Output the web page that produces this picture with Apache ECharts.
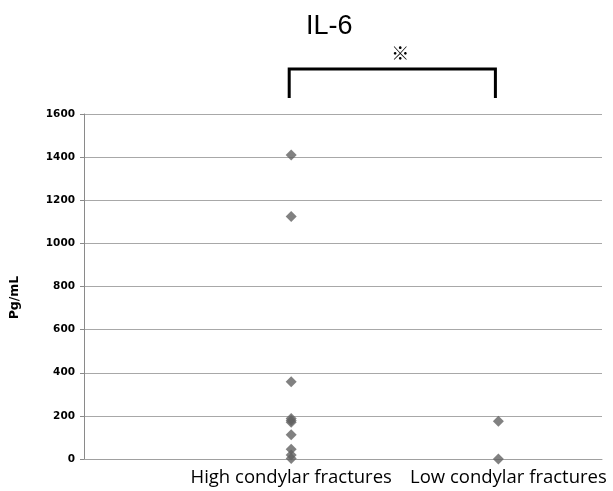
<!DOCTYPE html>
<html>
<head>
<meta charset="utf-8">
<script src="https://cdn.jsdelivr.net/npm/echarts@6/dist/echarts.min.js"></script>
<style>
  html, body { margin: 0; padding: 0; background: #fff; }
  #chart { width: 613px; height: 491px; }
</style>
</head>
<body>
<div id="chart"></div>
<script>
// groups on the x axis (positions 1 and 2)
const groups = ["High condylar fractures", "Low condylar fractures"];
const highValues = [1410, 1125, 358, 188, 178, 170, 112, 45, 18, 2];
const lowValues = [175, 0];
const yTicks = [0, 200, 400, 600, 800, 1000, 1200, 1400, 1600];

(function () {
  const dom = document.getElementById("chart");
  const chart = echarts.init(dom);

  const points = highValues.map((v) => [1, v]).concat(lowValues.map((v) => [2, v]));

  chart.setOption({
    animation: false,
    title: {
      text: "IL-6",
      left: 301,
      top: 8,
      textStyle: { fontFamily: "Liberation Sans", fontSize: 27, fontWeight: "normal", color: "#000" },
    },
    grid: { left: 81, right: 11, top: 114, bottom: 32 },
    xAxis: {
      type: "value",
      min: 0,
      max: 2.5,
      interval: 1,
      axisLine: { lineStyle: { color: "#a0a0a0" } },
      axisTick: { show: false },
      splitLine: { show: false },
      axisLabel: {
        margin: 9,
        fontFamily: "Open Sans",
        fontSize: 18.5,
        fontWeight: 500,
        color: "#000",
        showMinLabel: true,
        showMaxLabel: false,
        formatter: (v) => (v === 1 ? groups[0] : v === 2 ? "{low|" + groups[1] + "}" : ""),
        rich: { low: { fontFamily: "Open Sans", fontSize: 18.5, fontWeight: 500, color: "#000", padding: [0, 0, 0, 20] } },
      },
    },
    yAxis: {
      type: "value",
      min: yTicks[0],
      max: yTicks[yTicks.length - 1],
      interval: 200,
      name: "Pg/mL",
      nameLocation: "middle",
      nameGap: 63,
      nameRotate: 90,
      nameTextStyle: { fontFamily: "DejaVu Sans", fontWeight: "bold", fontSize: 12.5, color: "#000", padding: [0, 22, 0, 0] },
      axisLine: { show: true, lineStyle: { color: "#8a8a8a" } },
      axisTick: { show: true, inside: false, length: 4, lineStyle: { color: "#8a8a8a" } },
      splitLine: { lineStyle: { color: "#a8a8a8", width: 1 } },
      axisLabel: {
        margin: 9,
        fontFamily: "DejaVu Sans",
        fontWeight: "bold",
        fontSize: 10.5,
        color: "#000",
        formatter: (v) => String(v),
      },
    },
    series: [
      {
        type: "scatter",
        symbol: "diamond",
        symbolSize: 11,
        itemStyle: { color: "#626262" },
        data: points,
      },
    ],
  });

  // significance bracket between the two groups
  const x1 = chart.convertToPixel({ gridIndex: 0 }, [1, 0])[0] - 2;
  const x2 = chart.convertToPixel({ gridIndex: 0 }, [2, 0])[0] - 3;
  const topY = 69, bottomY = 98;
  chart.setOption({
    graphic: [
      {
        type: "polyline",
        shape: { points: [[x1, bottomY], [x1, topY], [x2, topY], [x2, bottomY]] },
        style: { stroke: "#000", lineWidth: 3, fill: null },
      },
      {
        type: "text",
        x: (x1 + x2) / 2 + 8,
        y: 53,
        style: {
          text: "※",
          font: "bold 18px 'Noto Sans CJK JP'",
          fill: "#000",
          align: "center",
          verticalAlign: "middle",
        },
      },
    ],
  });
})();
</script>
</body>
</html>
